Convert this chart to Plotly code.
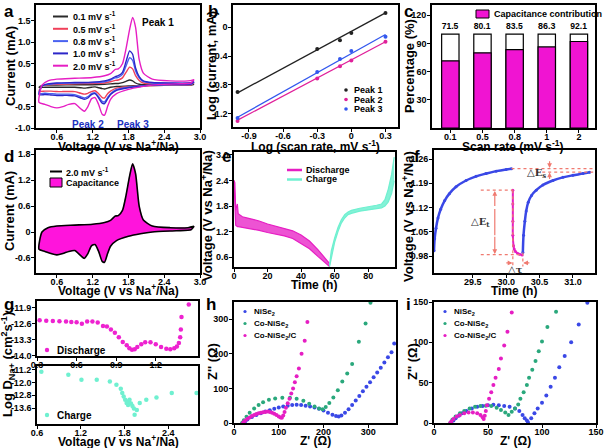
import plotly.graph_objects as go

# ---------------- DATA ----------------
# (a) CV curves at different scan rates
cv_v_anodic = [0.3, 0.35, 0.45, 0.6, 0.9, 1.2, 1.4, 1.5, 1.58, 1.63, 1.7, 1.76, 1.82, 1.87, 1.92, 1.98, 2.05, 2.2, 2.5, 2.8, 2.9]
cv_v_cathodic = [2.9, 2.85, 2.6, 2.2, 2.0, 1.8, 1.6, 1.5, 1.45, 1.4, 1.36, 1.3, 1.24, 1.18, 1.12, 1.06, 1.0, 0.9, 0.8, 0.7, 0.6, 0.5, 0.4, 0.3]
cv_labels = ["0.1 mV s<sup>-1</sup>", "0.5 mV s<sup>-1</sup>", "0.8 mV s<sup>-1</sup>", "1.0 mV s<sup>-1</sup>", "2.0 mV s<sup>-1</sup>"]
cv_i_anodic_01 = [-0.05, -0.01, 0.0, 0.0, 0.01, 0.01, 0.02, 0.03, 0.04, 0.04, 0.06, 0.09, 0.12, 0.1, 0.05, 0.02, 0.01, 0.01, 0.01, 0.01, 0.02]
cv_i_cathodic_01 = [0.02, 0.0, 0.0, -0.01, -0.01, -0.02, -0.03, -0.05, -0.07, -0.09, -0.08, -0.06, -0.04, -0.05, -0.06, -0.07, -0.06, -0.05, -0.05, -0.05, -0.05, -0.05, -0.05, -0.05]
cv_i_anodic_05 = [-0.14, -0.02, 0.01, 0.02, 0.03, 0.04, 0.05, 0.08, 0.11, 0.12, 0.17, 0.3, 0.42, 0.38, 0.22, 0.11, 0.05, 0.03, 0.03, 0.03, 0.05]
cv_i_cathodic_05 = [0.05, 0.01, 0.0, -0.01, -0.02, -0.04, -0.07, -0.14, -0.2, -0.3, -0.29, -0.2, -0.13, -0.15, -0.19, -0.21, -0.19, -0.15, -0.15, -0.15, -0.15, -0.14, -0.14, -0.14]
cv_i_anodic_08 = [-0.19, -0.02, 0.02, 0.04, 0.05, 0.06, 0.08, 0.12, 0.17, 0.18, 0.25, 0.45, 0.64, 0.58, 0.33, 0.17, 0.08, 0.05, 0.04, 0.04, 0.07]
cv_i_cathodic_08 = [0.07, 0.02, 0.01, 0.0, -0.02, -0.05, -0.1, -0.2, -0.29, -0.39, -0.38, -0.27, -0.18, -0.2, -0.27, -0.3, -0.27, -0.22, -0.21, -0.21, -0.21, -0.2, -0.19, -0.19]
cv_i_anodic_10 = [-0.22, -0.02, 0.03, 0.05, 0.06, 0.07, 0.1, 0.14, 0.2, 0.22, 0.3, 0.55, 0.8, 0.72, 0.4, 0.2, 0.1, 0.06, 0.05, 0.05, 0.08]
cv_i_cathodic_10 = [0.08, 0.03, 0.02, 0.0, -0.03, -0.06, -0.12, -0.22, -0.32, -0.43, -0.42, -0.3, -0.2, -0.22, -0.3, -0.33, -0.3, -0.25, -0.24, -0.24, -0.24, -0.23, -0.22, -0.22]
cv_i_anodic_20 = [-0.40, 0.0, 0.10, 0.14, 0.16, 0.18, 0.22, 0.27, 0.37, 0.38, 0.5, 0.85, 1.3, 1.58, 1.35, 0.6, 0.28, 0.14, 0.1, 0.1, 0.13]
cv_i_cathodic_20 = [0.13, 0.05, 0.03, 0.0, -0.04, -0.1, -0.2, -0.33, -0.5, -0.7, -0.68, -0.45, -0.29, -0.32, -0.5, -0.61, -0.55, -0.43, -0.45, -0.5, -0.53, -0.5, -0.45, -0.40]

# (b) log(i) vs log(v)
log_scan = [-1.0, -0.3, -0.1, 0.0, 0.3]
log_i_peak1 = [-0.9, -0.3, -0.18, -0.08, 0.2]
log_i_peak2 = [-1.3, -0.71, -0.54, -0.46, -0.2]
log_i_peak3 = [-1.26, -0.62, -0.44, -0.33, -0.13]
peak_names = ["Peak 1", "Peak 2", "Peak 3"]
fit_x = [-1.0, 0.3]
fit_peak1 = [-0.91, 0.2]
fit_peak2 = [-1.29, -0.2]
fit_peak3 = [-1.25, -0.1]

# (c) capacitive contribution
scan_rates = ["0.1", "0.5", "0.8", "1", "2"]
cap_contrib = [71.5, 80.1, 83.5, 86.3, 92.1]
total_pct = [100, 100, 100, 100, 100]

# (e) GITT profile
dis_t = [0, 0.5, 1, 2, 2.5, 5, 10, 15, 20, 25, 30, 35, 40, 45, 50, 54, 57]
dis_upper = [2.4, 2.35, 1.7, 1.85, 1.62, 1.55, 1.5, 1.45, 1.38, 1.33, 1.28, 1.22, 1.12, 0.98, 0.78, 0.6, 0.45]
dis_lower = [2.4, 1.5, 1.35, 1.32, 1.32, 1.3, 1.27, 1.23, 1.18, 1.14, 1.1, 1.04, 0.93, 0.8, 0.62, 0.47, 0.38]
chg_t = [57, 58, 60, 62, 64, 66, 68, 70, 75, 80, 85, 88, 90, 92, 94, 95.5]
chg_upper = [0.42, 0.75, 1.05, 1.3, 1.48, 1.6, 1.66, 1.7, 1.75, 1.78, 1.82, 1.85, 1.95, 2.2, 2.55, 2.95]
chg_lower = [0.38, 0.6, 0.95, 1.2, 1.4, 1.52, 1.6, 1.63, 1.68, 1.71, 1.74, 1.76, 1.8, 1.9, 2.1, 2.4]

# (f) single GITT titration
f_t1 = [28.92, 28.93, 28.95, 28.98, 29.02, 29.08, 29.15, 29.25, 29.4, 29.55, 29.7, 29.85, 30.0, 30.08]
f_v1 = [0.995, 1.03, 1.06, 1.09, 1.115, 1.14, 1.16, 1.18, 1.198, 1.21, 1.218, 1.225, 1.23, 1.232]
f_tp = [30.1, 30.1, 30.1, 30.1, 30.11, 30.12, 30.14, 30.17, 30.2, 30.24]
f_vp = [1.17, 1.13, 1.08, 1.04, 1.01, 1.0, 0.993, 0.988, 0.985, 0.983]
f_t2 = [30.25, 30.26, 30.28, 30.3, 30.33, 30.38, 30.45, 30.55, 30.7, 30.85, 31.0, 31.15, 31.25]
f_v2 = [0.99, 1.04, 1.08, 1.11, 1.135, 1.155, 1.17, 1.185, 1.198, 1.207, 1.213, 1.218, 1.222]

# (g) diffusion coefficients
dis_d_v = [0.32, 0.37, 0.42, 0.47, 0.52, 0.56, 0.6, 0.64, 0.68, 0.72, 0.76, 0.8, 0.83, 0.86, 0.89, 0.92, 0.95, 0.98, 1.0, 1.02, 1.04, 1.06, 1.09, 1.12, 1.16, 1.2, 1.24, 1.28, 1.31, 1.34, 1.36, 1.375, 1.385, 1.39, 1.395, 1.45]
dis_d_log = [-12.45, -12.47, -12.48, -12.49, -12.5, -12.52, -12.53, -12.6, -12.5, -12.5, -12.55, -12.7, -12.72, -12.85, -13.0, -13.2, -13.4, -13.55, -13.68, -13.75, -13.72, -13.62, -13.5, -13.42, -13.42, -13.5, -13.62, -13.7, -13.72, -13.68, -13.6, -13.45, -13.2, -12.85, -12.3, -11.75]
chg_d_v = [0.66, 1.03, 1.21, 1.42, 1.6, 1.69, 1.75, 1.77, 1.79, 1.81, 1.83, 1.85, 1.86, 1.87, 1.89, 1.91, 1.93, 1.94, 1.97, 2.01, 2.1, 2.24, 2.45, 2.79]
chg_d_log = [-11.34, -11.53, -11.84, -11.84, -11.95, -12.15, -12.4, -12.65, -12.88, -13.08, -13.27, -13.39, -13.17, -13.08, -13.31, -13.46, -13.62, -14.0, -13.7, -13.27, -13.08, -12.94, -12.65, -12.65]

# (h) EIS full view
nise2_re = [20, 25, 30, 40, 50, 60, 70, 80, 90, 100, 110, 120, 130, 140, 150, 160, 170, 180, 190, 200, 210, 220, 228, 234, 240, 248, 256, 264, 272, 280, 288, 296, 304, 312, 320, 328, 336, 344, 352, 358]
nise2_im = [0, 5, 10, 17, 23, 28, 33, 37, 41, 45, 48, 50, 52, 53, 52, 50, 48, 45, 41, 36, 30, 24, 20, 19, 22, 30, 40, 52, 65, 78, 92, 105, 118, 132, 146, 160, 175, 190, 205, 230]
conise2_re = [18, 22, 28, 35, 45, 55, 65, 78, 92, 108, 125, 140, 155, 168, 180, 190, 198, 205, 213, 222, 232, 242, 253, 264, 279, 294, 305]
conise2_im = [0, 8, 18, 30, 42, 52, 60, 67, 71, 73, 73, 70, 64, 56, 48, 42, 40, 46, 58, 74, 95, 120, 143, 171, 235, 288, 348]
conisec_re = [20, 22, 25, 30, 35, 40, 45, 50, 55, 60, 65, 70, 75, 80, 85, 90, 95, 100, 104, 107, 110, 113, 116, 120, 124, 128, 132, 136, 140, 145, 151, 158, 164]
conisec_im = [0, 3, 7, 12, 16, 20, 23, 26, 28, 30, 31, 32, 33, 32, 30, 27, 23, 19, 16, 15, 22, 32, 44, 57, 70, 85, 100, 118, 135, 158, 200, 238, 292]

# (i) EIS zoomed view
i_nise2_re = [16, 18, 20, 23, 26, 30, 35, 40, 45, 50, 55, 60, 65, 70, 75, 79, 82, 84, 86, 87, 90, 93, 96, 100, 104, 108, 112, 116, 121, 127, 134, 142]
i_nise2_im = [0, 3, 6, 9, 12, 15, 18, 20, 21, 22, 22.5, 22, 21, 20, 18, 15, 10, 6, 3, 1, 6, 12, 18, 25, 34, 45, 56, 69, 83, 100, 122, 149]
i_conise2_re = [15, 17, 20, 24, 28, 33, 38, 43, 48, 53, 58, 62, 66, 69, 72, 75, 78, 80, 83, 86, 88, 91, 94, 97, 100, 105, 113]
i_conise2_im = [0, 4, 8, 12, 15, 18, 20, 21, 21.5, 21, 19, 16, 13, 10, 14, 18, 23, 30, 38, 47, 56, 66, 77, 89, 101, 119, 138]
i_conisec_re = [15, 16, 18, 21, 24, 28, 32, 36, 40, 43, 45, 46, 47, 48, 49, 51, 53, 55, 57, 60, 62, 65, 68, 72]
i_conisec_im = [0, 2, 5, 8, 10, 12, 13, 13, 12, 10, 7, 5, 9, 15, 22, 30, 38, 47, 56, 67, 80, 96, 113, 137]

eis_names = ["NiSe<sub>2</sub>", "Co-NiSe<sub>2</sub>", "Co-NiSe<sub>2</sub>/C"]

# ---------------- STYLE ----------------
W, H = 605, 448
MAG = "#e61ec3"
BLUE = "#3a48e6"
GREEN = "#2aa87c"
CYAN = "#6ff0d0"
FONT = "Arial, Liberation Sans, sans-serif"
CV_COLORS = ["#2a2a2a", "#f0405a", "#4a62f0", "#2c26c8", MAG]
PEAK_COLORS = ["#222222", "#e0209a", "#3358ee"]
EIS_COLORS = [BLUE, GREEN, MAG]
TICK_SIZE = 9
XT_SIZE = 12
YT_SIZE = 13


def xd(a, b):
    return [a / W, b / W]


def yd(top, bottom):
    return [1 - bottom / H, 1 - top / H]


def axis(domain, rng, tickvals, ticktext=None, anchor=None, typ="linear", is_x=True):
    d = dict(domain=domain, range=rng, showline=True, mirror=True, automargin=False,
             linecolor="black", linewidth=1.6, ticks="outside", ticklen=3, tickwidth=1.2,
             tickcolor="black", showgrid=False, zeroline=False,
             tickfont=dict(size=TICK_SIZE, family=FONT, color="black", weight="bold"), type=typ)
    d["ticklabelstandoff"] = -4 if is_x else -1
    if tickvals is not None:
        d["tickvals"] = tickvals
    if ticktext is not None:
        d["ticktext"] = ticktext
    if anchor:
        d["anchor"] = anchor
    return d


fig = go.Figure()

# ---- (a)
cv_sets = [
    (cv_i_anodic_01, cv_i_cathodic_01),
    (cv_i_anodic_05, cv_i_cathodic_05),
    (cv_i_anodic_08, cv_i_cathodic_08),
    (cv_i_anodic_10, cv_i_cathodic_10),
    (cv_i_anodic_20, cv_i_cathodic_20),
]
for (ia, ic), col, lab in zip(cv_sets, CV_COLORS, cv_labels):
    fig.add_trace(go.Scatter(x=cv_v_anodic + cv_v_cathodic, y=ia + ic, mode="lines",
                             line=dict(color=col, width=1.4, shape="spline", smoothing=0.6),
                             name=lab, showlegend=False, xaxis="x", yaxis="y"))

# ---- (b)
for ys, fy, col, nm in zip([log_i_peak1, log_i_peak2, log_i_peak3], [fit_peak1, fit_peak2, fit_peak3], PEAK_COLORS, peak_names):
    fig.add_trace(go.Scatter(x=fit_x, y=fy, mode="lines", line=dict(color=col, width=1.3),
                             showlegend=False, xaxis="x2", yaxis="y2"))
    fig.add_trace(go.Scatter(x=log_scan, y=ys, mode="markers", marker=dict(color=col, size=4),
                             name=nm, showlegend=False, xaxis="x2", yaxis="y2"))

# ---- (c)
fig.add_trace(go.Bar(x=scan_rates, y=total_pct, marker=dict(color="white", line=dict(color="black", width=1.2)),
                     width=0.54, text=[f"{v}" for v in cap_contrib], textposition="outside",
                     textfont=dict(size=9.5, family=FONT, color="black", weight="bold"),
                     cliponaxis=False, showlegend=False, xaxis="x3", yaxis="y3"))
fig.add_trace(go.Bar(x=scan_rates, y=cap_contrib, marker=dict(color="#f014d2", line=dict(color="black", width=1.2)),
                     width=0.54, name="Capacitance contribution", showlegend=False, xaxis="x3", yaxis="y3"))

# ---- (d)
fig.add_trace(go.Scatter(x=cv_v_anodic + cv_v_cathodic, y=cv_i_anodic_20 + cv_i_cathodic_20, mode="lines",
                         fill="toself", fillcolor="#ff14dc", line=dict(color="#ff14dc", width=0.5, shape="spline", smoothing=0.6),
                         name="Capacitance", showlegend=False, xaxis="x4", yaxis="y4"))
fig.add_trace(go.Scatter(x=cv_v_anodic + cv_v_cathodic, y=cv_i_anodic_20 + cv_i_cathodic_20, mode="lines",
                         line=dict(color="black", width=1.6, shape="spline", smoothing=0.6),
                         name="2.0 mV s<sup>-1</sup>", showlegend=False, xaxis="x4", yaxis="y4"))

# ---- (e)
fig.add_trace(go.Scatter(x=dis_t, y=dis_upper, mode="lines", line=dict(color=MAG, width=1.2),
                         name="Discharge", showlegend=False, xaxis="x5", yaxis="y5"))
fig.add_trace(go.Scatter(x=dis_t, y=dis_lower, mode="lines", line=dict(color=MAG, width=1.2),
                         fill="tonexty", fillcolor="rgba(232,40,200,0.8)", showlegend=False, xaxis="x5", yaxis="y5"))
fig.add_trace(go.Scatter(x=chg_t, y=chg_upper, mode="lines", line=dict(color=CYAN, width=1.2),
                         name="Charge", showlegend=False, xaxis="x5", yaxis="y5"))
fig.add_trace(go.Scatter(x=chg_t, y=chg_lower, mode="lines", line=dict(color=CYAN, width=1.2),
                         fill="tonexty", fillcolor="rgba(110,240,208,0.85)", showlegend=False, xaxis="x5", yaxis="y5"))

# ---- (f)
fig.add_trace(go.Scatter(x=f_t1, y=f_v1, mode="lines+markers", line=dict(color=BLUE, width=2.5, shape="spline"),
                         marker=dict(color=BLUE, size=3), showlegend=False, xaxis="x6", yaxis="y6"))
fig.add_trace(go.Scatter(x=f_tp, y=f_vp, mode="lines+markers", line=dict(color=MAG, width=2, shape="spline"),
                         marker=dict(color=MAG, size=3), showlegend=False, xaxis="x6", yaxis="y6"))
fig.add_trace(go.Scatter(x=f_t2, y=f_v2, mode="lines+markers", line=dict(color=BLUE, width=2.5, shape="spline"),
                         marker=dict(color=BLUE, size=3), showlegend=False, xaxis="x6", yaxis="y6"))

# ---- (g)
fig.add_trace(go.Scatter(x=dis_d_v, y=dis_d_log, mode="markers", marker=dict(color="#ee22d0", size=4.5),
                         name="Discharge", showlegend=False, xaxis="x7", yaxis="y7"))
fig.add_trace(go.Scatter(x=chg_d_v, y=chg_d_log, mode="markers", marker=dict(color=CYAN, size=4.5),
                         name="Charge", showlegend=False, xaxis="x8", yaxis="y8"))

# ---- (h)
for xs, ys, col, nm in zip([nise2_re, conise2_re, conisec_re], [nise2_im, conise2_im, conisec_im], EIS_COLORS, eis_names):
    fig.add_trace(go.Scatter(x=xs, y=ys, mode="markers", marker=dict(color=col, size=4),
                             name=nm, showlegend=False, xaxis="x9", yaxis="y9"))
# ---- (i)
for xs, ys, col, nm in zip([i_nise2_re, i_conise2_re, i_conisec_re], [i_nise2_im, i_conise2_im, i_conisec_im], EIS_COLORS, eis_names):
    fig.add_trace(go.Scatter(x=xs, y=ys, mode="markers", marker=dict(color=col, size=4),
                             name=nm, showlegend=False, xaxis="x10", yaxis="y10"))

VNA = "Voltage (V vs Na<sup>+</sup>/Na)"

layout = dict(
    width=W, height=H, margin=dict(l=0, r=0, t=0, b=0), paper_bgcolor="white", plot_bgcolor="white",
    font=dict(family=FONT, size=10, color="black", weight="bold"), barmode="overlay", showlegend=False,
    xaxis=axis(xd(36, 200), [0.25, 3.0], [0.6, 1.2, 1.8, 2.4, 3.0], ["0.6", "1.2", "1.8", "2.4", "3.0"], "y"),
    yaxis=axis(yd(5, 128), [-1.0, 1.87], [-1.0, -0.5, 0, 0.5, 1.0, 1.5], ["-1.0", "-0.5", "0", "0.5", "1.0", "1.5"], "x", is_x=False),
    xaxis2=axis(xd(233, 398), [-1.04, 0.41], [-0.9, -0.6, -0.3, 0, 0.3], ["-0.9", "-0.6", "-0.3", "0", "0.3"], "y2"),
    yaxis2=axis(yd(5, 127), [-1.385, 0.31], [-1.2, -0.8, -0.4, 0], ["-1.2", "-0.8", "-0.4", "0"], "x2", is_x=False),
    xaxis3=axis(xd(432, 595), [-0.57, 4.5], None, None, "y3", typ="category"),
    yaxis3=axis(yd(5, 128), [0, 131], [30, 60, 90, 120], None, "x3", is_x=False),
    xaxis4=axis(xd(36, 200), [0.25, 3.0], [0.6, 1.2, 1.8, 2.4, 3.0], ["0.6", "1.2", "1.8", "2.4", "3.0"], "y4"),
    yaxis4=axis(yd(150, 273), [-0.95, 1.9], [-0.6, 0, 0.6, 1.2, 1.8], ["-0.6", "0", "0.6", "1.2", "1.8"], "x4", is_x=False),
    xaxis5=axis(xd(234, 395), [0, 96], [0, 20, 40, 60, 80], None, "y5"),
    yaxis5=axis(yd(152, 267), [0.37, 3.07], [0.6, 1.2, 1.8, 2.4, 3.0], ["0.6", "1.2", "1.8", "2.4", "3.0"], "x5", is_x=False),
    xaxis6=axis(xd(434, 595), [28.92, 31.33], [29.5, 30.0, 30.5, 31.0], ["29.5", "30.0", "30.5", "31.0"], "y6"),
    yaxis6=axis(yd(150, 273), [0.931, 1.286], [0.98, 1.05, 1.12, 1.19, 1.26], ["0.98", "1.05", "1.12", "1.19", "1.26"], "x6", is_x=False),
    xaxis7=axis(xd(37, 198), [0.3, 1.52], [0.3, 0.6, 0.9, 1.2], ["0.3", "0.6", "0.9", "1.2"], "y7"),
    yaxis7=axis(yd(301, 356), [-14.02, -11.6], [-11.9, -12.6, -13.3, -14.0], ["-11.9", "-12.6", "-13.3", "-14.0"], "x7", is_x=False),
    xaxis8=axis(xd(37, 198), [0.6, 2.81], [0.6, 1.2, 1.8, 2.4], ["0.6", "1.2", "1.8", "2.4"], "y8"),
    yaxis8=axis(yd(366, 424), [-14.57, -10.99], [-11.2, -12.0, -12.8, -13.6], ["-11.2", "-12.0", "-12.8", "-13.6"], "x8", is_x=False),
    xaxis9=axis(xd(234, 396), [0, 362], [0, 100, 200, 300], None, "y9"),
    yaxis9=axis(yd(302, 423), [0, 350], [0, 100, 200, 300], None, "x9", is_x=False),
    xaxis10=axis(xd(434, 596), [0, 150], [0, 50, 100, 150], None, "y10"),
    yaxis10=axis(yd(302, 423), [0, 150], [0, 50, 100, 150], None, "x10", is_x=False),
)
fig.update_layout(**layout)


def px(x):
    return x / W


def py(y):
    return 1 - y / H


ann = []
shapes = []


def leg_text(x, y, text, size=9):
    ann.append(dict(text="<b>%s</b>" % text, x=px(x), y=py(y), xref="paper", yref="paper",
                    xanchor="left", yanchor="middle", showarrow=False,
                    font=dict(size=size, family=FONT, color="black")))


def leg_line(x0, x1, y, color, width=2):
    shapes.append(dict(type="line", x0=px(x0), x1=px(x1), y0=py(y), y1=py(y), xref="paper", yref="paper",
                       line=dict(color=color, width=width)))


def leg_dot(x, y, color, r=2.2):
    shapes.append(dict(type="circle", x0=px(x - r), x1=px(x + r), y0=py(y + r), y1=py(y - r),
                       xref="paper", yref="paper", fillcolor=color, line=dict(color=color, width=0)))


def leg_box(x0, y0, x1, y1, color):
    shapes.append(dict(type="rect", x0=px(x0), x1=px(x1), y0=py(y1), y1=py(y0), xref="paper", yref="paper",
                       fillcolor=color, line=dict(color="black", width=1)))


def xtitle(text, x, y):
    ann.append(dict(text="<b>%s</b>" % text, x=px(x), y=py(y), xref="paper", yref="paper",
                    xanchor="center", yanchor="middle", showarrow=False,
                    font=dict(size=XT_SIZE, family=FONT, color="black")))


def ytitle(text, x, y):
    ann.append(dict(text="<b>%s</b>" % text, x=px(x), y=py(y), xref="paper", yref="paper",
                    xanchor="center", yanchor="middle", textangle=-90, showarrow=False,
                    font=dict(size=YT_SIZE, family=FONT, color="black")))


# axis titles
xtitle(VNA, 118, 146)
ytitle("Current (mA)", 10, 66)
xtitle("Log (scan rate, mV s<sup>-1</sup>)", 315, 146)
ytitle("Log (current, mA)", 211, 66)
xtitle("Scan rate (mV s<sup>-1</sup>)", 513, 146)
ytitle("Percentage (%)", 409, 66)
xtitle(VNA, 118, 290)
ytitle("Current (mA)", 10, 211)
xtitle("Time (h)", 314, 285)
ytitle(VNA, 207, 216)
xtitle("Time (h)", 514, 291)
ytitle(VNA, 408, 216)
xtitle(VNA, 118, 441)
ytitle("Log D<sub>Na+</sub> (cm<sup>2</sup>s<sup>-1</sup>)", 8, 365)
xtitle("Z' (Ω)", 315, 441)
ytitle("Z'' (Ω)", 212, 362)
xtitle("Z' (Ω)", 515, 441)
ytitle("Z'' (Ω)", 412, 362)

# legend (a)
for k, (lab, col) in enumerate(zip(cv_labels, CV_COLORS)):
    y = 16.5 + 12.3 * k
    leg_line(53, 68, y, col, 2)
    leg_text(71, y, lab, 9)
# legend (b)
for k, (nm, col) in enumerate(zip(peak_names, PEAK_COLORS)):
    y = 90 + 9.5 * k
    leg_dot(346, y, col, 1.8)
    leg_text(352, y, nm, 9)
# legend (c)
leg_box(476, 10, 489, 18, "#f014d2")
leg_text(492, 14, "Capacitance contribution", 9)
# legend (d)
leg_line(50, 62, 171.5, "black", 2)
leg_text(64, 171.5, "2.0 mV s<sup>-1</sup>", 9)
leg_box(50, 178, 62, 187, "#ff14dc")
leg_text(64, 182.5, "Capacitance", 9)
# legend (e)
leg_line(287, 302, 170, MAG, 2.5)
leg_text(304, 170, "Discharge", 9)
leg_line(287, 302, 179.5, CYAN, 2.5)
leg_text(304, 179.5, "Charge", 9)
# legend (g)
leg_dot(47, 350, "#ee22d0", 2.2)
leg_text(55, 350, "Discharge", 10)
leg_dot(47, 415, CYAN, 2.2)
leg_text(55, 415, "Charge", 10)
# legend (h) & (i)
for k, (nm, col) in enumerate(zip(eis_names, EIS_COLORS)):
    y = 311.5 + 12 * k
    leg_dot(245, y, col, 1.6)
    leg_text(252, y, nm, 8)
    leg_dot(445, y, col, 1.6)
    leg_text(452, y, nm, 8)

# panel letters
for letter, lx, ly in [("a", 2, 0), ("b", 206, 0), ("c", 402, 0), ("d", 2, 145), ("e", 220, 145),
                       ("f", 412, 145), ("g", 2, 293), ("h", 204, 293), ("i", 404, 293)]:
    ann.append(dict(text="<b>%s</b>" % letter, x=px(lx), y=py(ly), xref="paper", yref="paper",
                    xanchor="left", yanchor="top", showarrow=False, font=dict(size=17, family=FONT, color="black")))
ann += [
    dict(text="<b>Peak 1</b>", x=px(140), y=py(15), xref="paper", yref="paper", showarrow=False, xanchor="left",
         font=dict(size=10, color="black", family=FONT)),
    dict(text="<b>Peak 2</b>", x=px(70), y=py(117), xref="paper", yref="paper", showarrow=False, xanchor="left",
         font=dict(size=10, color="#2030c0", family=FONT)),
    dict(text="<b>Peak 3</b>", x=px(115), y=py(117), xref="paper", yref="paper", showarrow=False, xanchor="left",
         font=dict(size=10, color="#2030c0", family=FONT)),
    # (f) annotations
    dict(text="△E<sub>s</sub>", x=30.46, y=1.217, xref="x6", yref="y6", showarrow=False,
         font=dict(size=10, family="DejaVu Serif", color="#333")),
    dict(text="△E<sub>t</sub>", x=29.62, y=1.078, xref="x6", yref="y6", showarrow=False,
         font=dict(size=10, family="DejaVu Serif", color="#333")),
    dict(text="△τ", x=30.14, y=0.94, xref="x6", yref="y6", showarrow=False,
         font=dict(size=10, family="DejaVu Serif", color="#333")),
]
RED = "#f07a70"
for (x0, y0, x1, y1) in [(29.83, 1.12, 29.83, 1.168), (29.83, 1.04, 29.83, 0.986),
                         (30.65, 1.258, 30.65, 1.234), (30.65, 1.198, 30.65, 1.221),
                         (29.98, 0.96, 30.095, 0.96), (30.37, 0.96, 30.255, 0.96)]:
    ann.append(dict(x=x1, y=y1, ax=x0, ay=y0, xref="x6", yref="y6", axref="x6", ayref="y6", text="",
                    showarrow=True, arrowhead=2, arrowsize=0.8, arrowwidth=1.2, arrowcolor=RED))
ann.append(dict(x=29.83, y=1.04, ax=29.83, ay=1.12, xref="x6", yref="y6", axref="x6", ayref="y6", text="",
                showarrow=True, arrowhead=0, arrowwidth=1.2, arrowcolor=RED))

for (x0, y0, x1, y1) in [(30.08, 1.232, 31.33, 1.232), (30.45, 1.222, 31.33, 1.222),
                         (29.62, 1.17, 30.1, 1.17), (29.62, 0.984, 30.25, 0.984),
                         (30.1, 1.17, 30.1, 0.95), (30.25, 0.99, 30.25, 0.95)]:
    shapes.append(dict(type="line", x0=x0, y0=y0, x1=x1, y1=y1, xref="x6", yref="y6",
                       line=dict(color=RED, width=1.2, dash="dot")))

fig.update_layout(annotations=ann, shapes=shapes)
fig.write_html("out.html", config={"displayModeBar": False},
               post_script="document.body.style.margin='0';document.body.style.overflow='hidden';")
